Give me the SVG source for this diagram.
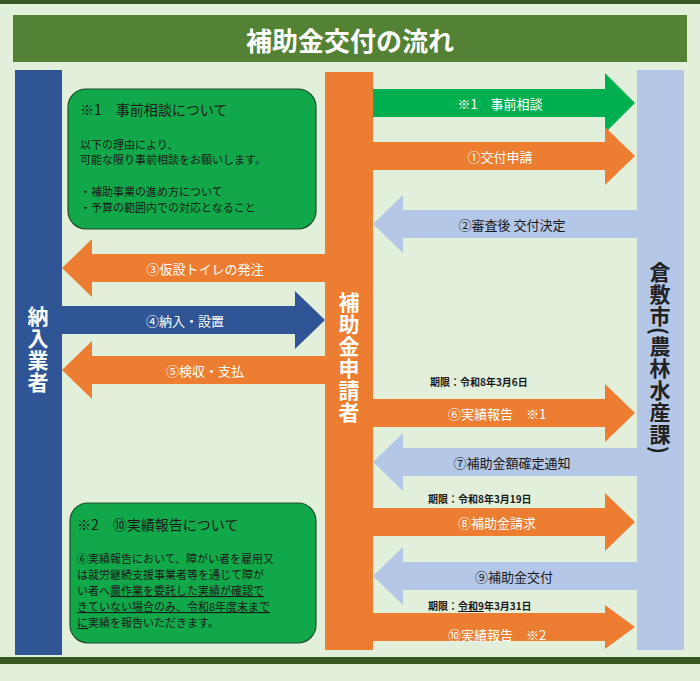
<svg xmlns="http://www.w3.org/2000/svg" width="700" height="681" viewBox="0 0 700 681">
<style>
text{font-family:"Noto Sans CJK JP","Noto Sans",sans-serif}
.w{fill:#fff;font-size:13px;text-anchor:middle;dominant-baseline:central}
.d{fill:#1a1a1a;font-size:13px;text-anchor:middle;dominant-baseline:central}
.s{fill:#1a1a1a;font-size:10px;font-weight:bold}
.b{fill:#1a1a1a;font-size:11px}
.v{writing-mode:vertical-rl;font-size:21px;text-anchor:middle;letter-spacing:1px}
.or{fill:#ed7d31}.lb{fill:#b4c7e7}.bl{fill:#2f5597}.gr{fill:#00b050}
.box{fill:#11a84a;stroke:#1e4d2b;stroke-width:1.2}
</style>
<rect width="700" height="681" fill="#e2efda"/>
<rect width="700" height="4" fill="#385723"/>
<rect x="0" y="657" width="700" height="7" fill="#385723"/>
<g id="title"><rect x="13" y="15" width="674" height="47" fill="#548235"/>
<text x="350" y="39" fill="#fff" font-size="26" font-weight="bold" text-anchor="middle" dominant-baseline="central" style="font-family:'Noto Sans CJK JP',sans-serif">補助金交付の流れ</text></g>
<g id="vendor"><rect x="15" y="70" width="47" height="585" class="bl"/><text x="38" y="350" class="v" fill="#fff" font-weight="bold">納入業者</text></g>
<g id="applicant"><rect x="325" y="72" width="48" height="578" class="or"/><text x="349" y="358" class="v" fill="#fff" font-weight="bold">補助金申請者</text></g>
<g id="city"><rect x="637" y="70" width="47" height="580" class="lb"/><text x="660" y="358" class="v" fill="#222" font-weight="bold">倉敷市(農林水産課)</text></g>
<g id="connectors">
<path class="gr" d="M373 89H605V73L635 103L605 133V117H373Z"/>
<text x="500" y="103" class="w">※1　事前相談</text>
<path class="or" d="M373 142H605V127L635 156L605 185V170H373Z"/>
<text x="500" y="156" class="w">①交付申請</text>
<path class="lb" d="M637 210H403V195L373 224L403 253V238H637Z"/>
<text x="512" y="224" class="d">②審査後 交付決定</text>
<path class="or" d="M325 254H92V239L62 268L92 297V282H325Z"/>
<text x="205" y="268" class="w">③仮設トイレの発注</text>
<path class="bl" d="M62 306H295V291L325 320L295 349V334H62Z"/>
<text x="185" y="320" class="w">④納入・設置</text>
<path class="or" d="M325 356H92V341L62 370L92 399V384H325Z"/>
<text x="205" y="370" class="w">⑤検収・支払</text>
<text x="430" y="386" class="s">期限：令和8年3月6日</text>
<path class="or" d="M373 399H605V384L635 413L605 442V427H373Z"/>
<text x="497" y="413" class="w">⑥実績報告　※1</text>
<path class="lb" d="M637 448H403V433L373 462L403 491V476H637Z"/>
<text x="512" y="462" class="d">⑦補助金額確定通知</text>
<text x="428" y="503" class="s">期限：令和8年3月19日</text>
<path class="or" d="M373 508H605V493L635 522L605 551V536H373Z"/>
<text x="497" y="522" class="w">⑧補助金請求</text>
<path class="lb" d="M637 562H403V547L373 576L403 605V590H637Z"/>
<text x="514" y="576" class="d">⑨補助金交付</text>
<text x="428" y="610" class="s">期限：<tspan text-decoration="underline">令和9</tspan>年3月31日</text>
<path class="or" d="M373 613H605V605L635 627L605 649V641H373Z"/>
<text x="497" y="634" class="w">⑩実績報告　※2</text>
</g>
<g id="note1"><rect x="68" y="89" width="248" height="140" rx="18" class="box"/>
<text x="80" y="115" fill="#1a1a1a" font-size="14">※1　事前相談について</text>
<text x="80" y="149" class="b">以下の理由により、</text>
<text x="80" y="164" class="b">可能な限り事前相談をお願いします。</text>
<text x="80" y="196" class="b">・補助事業の進め方について</text>
<text x="80" y="212" class="b">・予算の範囲内での対応となること</text></g>
<g id="note2"><rect x="70" y="503" width="246" height="140" rx="18" class="box"/>
<text x="77" y="530" fill="#1a1a1a" font-size="14">※2　⑩実績報告について</text>
<text x="77" y="563" class="b">⑥実績報告において、障がい者を雇用又</text>
<text x="77" y="579" class="b">は就労継続支援事業者等を通じて障が</text>
<text x="77" y="595" class="b">い者へ<tspan text-decoration="underline">農作業を委託した実績が確認で</tspan></text>
<text x="77" y="611" class="b" text-decoration="underline">きていない場合のみ、令和8年度末まで</text>
<text x="77" y="627" class="b"><tspan text-decoration="underline">に</tspan>実績を報告いただきます。</text></g>
</svg>
